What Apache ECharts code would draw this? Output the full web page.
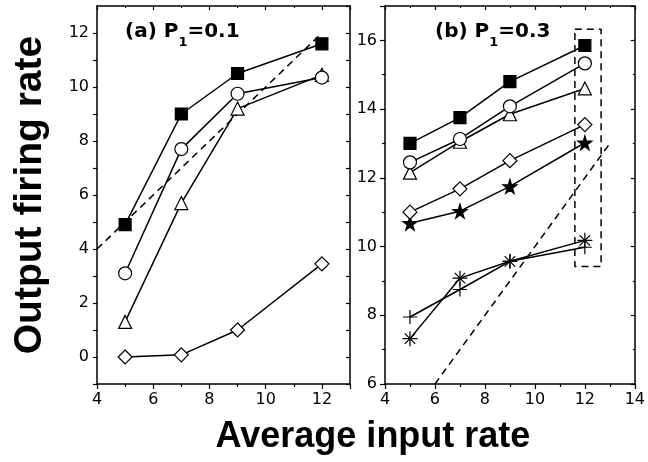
<!DOCTYPE html>
<html>
<head>
<meta charset="utf-8">
<script src="https://cdn.jsdelivr.net/npm/echarts@6/dist/echarts.min.js"></script>
<style>
  html, body { margin: 0; padding: 0; background: #fff; }
  #chart { width: 648px; height: 462px; }
</style>
</head>
<body>
<div id="chart"></div>
<script>
// input rates where the runs were made
var xA = [5, 7, 9, 12];
var xB = [5, 7, 9, 12];

// panel (a) P1 = 0.1
var aSquare = [4.9, 9.0, 10.5, 11.6];
var aCircle = [3.1, 7.7, 9.75, 10.35];
var aTriangle = [1.3, 5.7, 9.2, 10.45];
var aDiamond = [0, 0.08, 1.0, 3.45];
var aDiagX = [4, 12];
var aDiagY = [4, 12];

// panel (b) P1 = 0.3
var bSquare = [13.0, 13.75, 14.8, 15.85];
var bCircle = [12.45, 13.13, 14.08, 15.33];
var bTriangle = [12.15, 13.05, 13.85, 14.6];
var bDiamond = [11.0, 11.68, 12.5, 13.55];
var bStar = [10.68, 11.03, 11.75, 13.02];
var bPlus = [7.95, 8.75, 9.57, 9.98];
var bAsterisk = [7.32, 9.08, 9.57, 10.18];
var bDiagX = [6, 13];
var bDiagY = [6, 13];
var bBoxX = [11.6, 12.65, 12.65, 11.6, 11.6];
var bBoxY = [16.32, 16.32, 9.42, 9.42, 16.32];

var FONT = 'DejaVu Sans';
var STAR = 'path://M50,0L61,35L98,35L68,57L79,91L50,70L21,91L32,57L2,35L39,35Z';
var PLUS = 'path://M0,10L20,10M10,0L10,20';
var ASTER = 'path://M0,10L20,10M10,0L10,20M3,3L17,17M17,3L3,17';

function pairs(xs, ys) {
  return xs.map(function (x, i) { return [x, ys[i]]; });
}

// one marker+line series
function curve(xs, ys, idx, symbol, size, filled) {
  return {
    type: 'line',
    xAxisIndex: idx * 2,
    yAxisIndex: idx * 2,
    data: pairs(xs, ys),
    symbol: symbol,
    symbolSize: size,
    lineStyle: { color: '#000', width: 1.5 },
    itemStyle: {
      color: filled ? '#000' : '#fff',
      borderColor: '#000',
      borderWidth: 1.2
    },
    z: 3
  };
}

function dashed(xs, ys, idx) {
  return {
    type: 'line',
    xAxisIndex: idx * 2,
    yAxisIndex: idx * 2,
    data: pairs(xs, ys),
    symbol: 'none',
    lineStyle: { color: '#000', width: 1.5, type: [7, 5] },
    z: 2
  };
}

function xAxes(grid, min, max) {
  var base = {
    gridIndex: grid, type: 'value', min: min, max: max, interval: 2,
    axisLine: { onZero: false, lineStyle: { color: '#000', width: 1.5 } },
    splitLine: { show: false },
    minorTick: { show: true, splitNumber: 2, length: 3, lineStyle: { color: '#000', width: 1.2 } }
  };
  return [
    Object.assign({}, base, {
      position: 'bottom',
      axisTick: { length: 5, lineStyle: { color: '#000', width: 1.2 } },
      axisLabel: { color: '#000', fontFamily: FONT, fontSize: 16, margin: 8, showMaxLabel: max === 14 }
    }),
    Object.assign({}, base, {
      position: 'top',
      axisTick: { inside: true, length: 4, lineStyle: { color: '#000', width: 1.2 } },
      minorTick: { show: true, splitNumber: 2, length: 2, lineStyle: { color: '#000', width: 1.2 } },
      axisLabel: { show: false }
    })
  ];
}

function yAxes(grid, min, max, interval) {
  var base = {
    gridIndex: grid, type: 'value', min: min, max: max, interval: interval,
    axisLine: { show: true, onZero: false, lineStyle: { color: '#000', width: 1.5 } },
    splitLine: { show: false },
    minorTick: { show: interval === 2, splitNumber: 2, length: 3, lineStyle: { color: '#000', width: 1.2 } }
  };
  return [
    Object.assign({}, base, {
      position: 'left',
      axisTick: { show: true, length: interval === 2 ? 5 : 4, lineStyle: { color: '#000', width: 1.2 } },
      axisLabel: {
        color: '#000', fontFamily: FONT, fontSize: 16, margin: 8, showMaxLabel: false,
        formatter: function (v) { return v % 2 === 0 ? String(v) : ''; }
      }
    }),
    Object.assign({}, base, {
      position: 'right',
      axisTick: { show: true, inside: true, length: 4, lineStyle: { color: '#000', width: 1.2 } },
      minorTick: { show: interval === 2, splitNumber: 2, length: 2, lineStyle: { color: '#000', width: 1.2 } },
      axisLabel: { show: false }
    })
  ];
}

function panelTitle(main, sub, tail, left) {
  var m = { fontFamily: FONT, fontWeight: 'bold', fontSize: 20, lineHeight: 22, color: '#000', verticalAlign: 'top' };
  return {
    text: '{m|' + main + '}{s|' + sub + '}{m|' + tail + '}',
    left: left, top: 22, padding: 0,
    textStyle: {
      rich: {
        m: m,
        s: { fontFamily: FONT, fontWeight: 'bold', fontSize: 13, lineHeight: 13, color: '#000', verticalAlign: 'top', padding: [14, 0, 0, 0] }
      }
    }
  };
}

var chart = echarts.init(document.getElementById('chart'));
chart.setOption({
  animation: false,
  backgroundColor: '#fff',
  title: [
    panelTitle('(a) P', '1', '=0.1', 125),
    panelTitle('(b) P', '1', '=0.3', 435)
  ],
  grid: [
    { left: 97, top: 6, width: 253, height: 378 },
    { left: 385, top: 6, width: 253, height: 378 }
  ],
  xAxis: xAxes(0, 4, 13).concat(xAxes(1, 4, 14)),
  yAxis: yAxes(0, -1, 13, 1).concat(yAxes(1, 6, 17, 2)),
  graphic: [
    {
      type: 'text', x: 30, y: 195, rotation: Math.PI / 2,
      style: { text: 'Output firing rate', font: 'bold 39px "Liberation Sans"', fill: '#000', align: 'center', verticalAlign: 'middle' }
    },
    {
      type: 'text', x: 373, y: 437,
      style: { text: 'Average input rate', font: 'bold 36px "Liberation Sans"', fill: '#000', align: 'center', verticalAlign: 'middle' }
    }
  ],
  series: [
    dashed(aDiagX, aDiagY, 0),
    curve(xA, aDiamond, 0, 'diamond', 14, false),
    curve(xA, aTriangle, 0, 'triangle', 13, false),
    curve(xA, aCircle, 0, 'circle', 13, false),
    curve(xA, aSquare, 0, 'rect', 12, true),

    dashed(bDiagX, bDiagY, 1),
    dashed(bBoxX, bBoxY, 1),
    curve(xB, bPlus, 1, PLUS, 14, true),
    curve(xB, bAsterisk, 1, ASTER, 15, true),
    curve(xB, bStar, 1, STAR, 14, true),
    curve(xB, bDiamond, 1, 'diamond', 14, false),
    curve(xB, bTriangle, 1, 'triangle', 13, false),
    curve(xB, bCircle, 1, 'circle', 13, false),
    curve(xB, bSquare, 1, 'rect', 12, true)
  ]
});
</script>
</body>
</html>
